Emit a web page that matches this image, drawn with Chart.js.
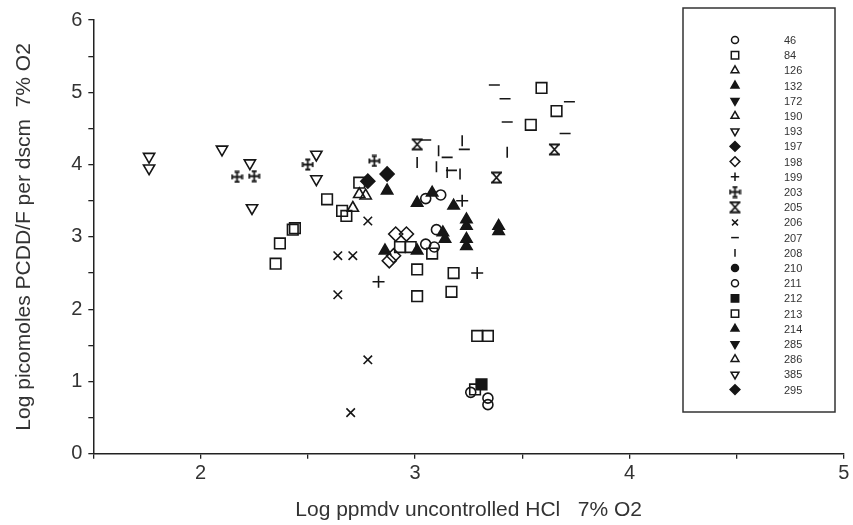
<!DOCTYPE html>
<html>
<head>
<meta charset="utf-8">
<script src="https://cdn.jsdelivr.net/npm/chart.js@4.4.1/dist/chart.umd.min.js"></script>
<style>
  html, body { margin: 0; padding: 0; background: #fff; }
  #wrap { width: 853px; height: 525px; }
</style>
</head>
<body>
<div id="wrap"><canvas id="plot"></canvas></div>
<script>
// series ids in legend order
const seriesLabels = ['46', '84', '126', '132', '172', '190', '193', '197', '198', '199', '203', '205',
  '206', '207', '208', '210', '211', '212', '213', '214', '285', '286', '385', '295'];

// [log HCl, log PCDD/F]
const d46 = [[3.26, 0.85], [3.34, 0.77], [3.34, 0.68]];
const d84 = [[2.35, 2.63], [2.37, 2.91], [2.43, 3.10], [2.44, 3.12], [2.59, 3.52], [2.66, 3.36], [2.68, 3.29], [2.74, 3.75]];
const d126 = [[2.74, 3.59]];
const d132 = [[2.87, 3.64], [2.86, 2.81], [3.01, 3.47], [3.01, 2.81], [3.18, 3.43], [3.08, 3.61]];
const d172 = [];
const d190 = [[2.77, 3.57]];
const d193 = [[1.76, 4.11], [1.76, 3.95], [2.10, 4.21], [2.23, 4.02]];
const d197 = [[2.78, 3.77]];
const d198 = [[2.91, 3.04], [2.96, 3.04], [2.88, 2.67], [2.90, 2.74]];
const d199 = [[2.83, 2.38], [3.29, 2.50], [3.22, 3.50]];
const d203 = [[2.17, 3.83], [2.25, 3.84], [2.50, 4.00], [2.81, 4.05]];
const d205 = [[3.01, 4.28], [3.38, 3.82], [3.65, 4.21]];
const d206 = [[2.64, 2.74], [2.71, 2.74], [2.64, 2.20], [2.78, 3.22], [2.78, 1.30], [2.70, 0.57]];
const d207 = [[3.05, 4.34], [3.15, 4.10], [3.17, 3.92], [3.23, 4.21], [3.37, 5.10], [3.42, 4.91], [3.43, 4.59], [3.72, 4.87], [3.70, 4.43]];
const d208 = [[3.01, 4.03], [3.11, 4.19], [3.10, 3.97], [3.21, 3.87], [3.15, 3.89], [3.22, 4.33], [3.43, 4.17]];
const d210 = [];
const d211 = [[3.05, 2.90], [3.09, 2.86], [3.10, 3.10], [3.05, 3.53], [3.12, 3.58]];
const d212 = [[3.31, 0.96]];
const d213 = [[2.93, 2.86], [2.98, 2.86], [3.08, 2.77], [3.01, 2.55], [3.01, 2.18], [3.18, 2.50], [3.17, 2.24],
  [3.29, 1.63], [3.34, 1.63], [3.28, 0.89], [3.54, 4.55], [3.59, 5.06], [3.66, 4.74]];
const d214 = [[3.13, 3.06], [3.14, 2.97], [3.24, 3.24], [3.24, 3.15], [3.24, 2.97], [3.24, 2.87], [3.39, 3.15], [3.39, 3.08]];
const d285 = [];
const d286 = [[2.71, 3.40]];
const d385 = [[2.24, 3.40], [2.54, 4.14], [2.54, 3.80]];
const d295 = [[2.87, 3.87]];

const seriesData = [d46, d84, d126, d132, d172, d190, d193, d197, d198, d199, d203, d205,
  d206, d207, d208, d210, d211, d212, d213, d214, d285, d286, d385, d295];

const ink = '#161616';
const clear = 'rgba(0,0,0,0)';

function symbolCanvas(kind) {
  const c = document.createElement('canvas');
  c.width = 13; c.height = 13;
  const g = c.getContext('2d');
  g.strokeStyle = ink;
  g.lineWidth = 1.8;
  g.beginPath();
  if (kind === 'plusbar') {
    g.moveTo(1.5, 6.5); g.lineTo(11.5, 6.5);
    g.moveTo(6.5, 1.5); g.lineTo(6.5, 11.5);
    g.moveTo(1.5, 4); g.lineTo(1.5, 9);
    g.moveTo(11.5, 4); g.lineTo(11.5, 9);
    g.moveTo(4, 1.5); g.lineTo(9, 1.5);
    g.moveTo(4, 11.5); g.lineTo(9, 11.5);
  } else {
    g.moveTo(2.5, 2); g.lineTo(10.5, 11);
    g.moveTo(10.5, 2); g.lineTo(2.5, 11);
    g.moveTo(1, 1.5); g.lineTo(12, 1.5);
    g.moveTo(1, 11.5); g.lineTo(12, 11.5);
  }
  g.stroke();
  return c;
}

// marker style per series: [pointStyle, rotation, filled, radius]
const markers = {
  '46': ['circle', 0, false, 5], '84': ['rect', 0, false, 7.5], '126': ['triangle', 0, false, 6.5],
  '132': ['triangle', 0, true, 6.5], '172': ['triangle', 180, true, 6.5], '190': ['triangle', 0, false, 6.5],
  '193': ['triangle', 180, false, 6.5], '197': ['rectRot', 0, true, 7], '198': ['rectRot', 0, false, 7],
  '199': ['cross', 0, false, 6], '203': [symbolCanvas('plusbar'), 0, false, 6], '205': [symbolCanvas('hourglass'), 0, false, 6],
  '206': ['crossRot', 0, false, 6], '207': ['line', 0, false, 5.5], '208': ['line', 90, false, 5.5],
  '210': ['circle', 0, true, 5], '211': ['circle', 0, false, 5], '212': ['rect', 0, true, 7.5],
  '213': ['rect', 0, false, 7.5], '214': ['triangle', 0, true, 6.5], '285': ['triangle', 180, true, 6.5],
  '286': ['triangle', 0, false, 6.5], '385': ['triangle', 180, false, 6.5], '295': ['rectRot', 0, true, 7]
};

const datasets = seriesLabels.map((id, i) => {
  const m = markers[id];
  return {
    label: id,
    data: seriesData[i].map(p => ({ x: p[0], y: p[1] })),
    pointStyle: m[0],
    pointRotation: m[1],
    pointRadius: m[3],
    pointHoverRadius: m[3],
    pointBorderColor: ink,
    pointBackgroundColor: m[2] ? ink : clear,
    pointBorderWidth: 1.6,
    showLine: false
  };
});

const boxLegend = {
  id: 'boxLegend',
  afterDraw(chart) {
    const ctx = chart.ctx;
    ctx.save();
    ctx.fillStyle = '#fff';
    ctx.fillRect(683, 8, 152, 404);
    ctx.strokeStyle = '#333';
    ctx.lineWidth = 1.5;
    ctx.strokeRect(683, 8, 152, 404);
    chart.data.datasets.forEach((ds, i) => {
      const y = 40 + i * 15.2;
      ctx.strokeStyle = ink;
      ctx.fillStyle = ds.pointBackgroundColor;
      ctx.lineWidth = 1.5;
      Chart.helpers.drawPoint(ctx, {
        pointStyle: ds.pointStyle,
        rotation: ds.pointRotation,
        radius: ds.pointRadius * 0.7,
        borderWidth: 1.5
      }, 735, y);
      ctx.fillStyle = '#333';
      ctx.font = '11px "Liberation Sans", Arial, sans-serif';
      ctx.textBaseline = 'middle';
      ctx.textAlign = 'left';
      ctx.fillText(ds.label, 784, y + 1);
    });
    ctx.restore();
  }
};

const tickFont = { family: '"Liberation Sans", Arial, sans-serif', size: 20 };
const titleFont = { family: '"Liberation Sans", Arial, sans-serif', size: 21 };

new Chart(document.getElementById('plot'), {
  type: 'scatter',
  data: { datasets: datasets },
  options: {
    responsive: true,
    maintainAspectRatio: false,
    animation: false,
    layout: { padding: { left: 8, right: -2, top: 20, bottom: 0 } },
    plugins: { legend: { display: false }, tooltip: { enabled: false } },
    scales: {
      x: {
        type: 'linear',
        min: 1.5,
        max: 5,
        afterFit: s => { s.paddingRight = 0; },
        ticks: {
          stepSize: 0.5,
          autoSkip: false,
          maxRotation: 0,
          color: '#333',
          font: tickFont,
          callback: v => Number.isInteger(v) ? String(v) : ''
        },
        grid: { drawOnChartArea: false, tickLength: 5, color: '#222', lineWidth: 1.3 },
        border: { color: '#222', width: 1.5 },
        title: { display: true, text: 'Log ppmdv uncontrolled HCl   7% O2', color: '#333', font: titleFont, padding: { top: 9, bottom: 2 } }
      },
      y: {
        type: 'linear',
        min: 0,
        max: 6,
        ticks: {
          stepSize: 0.5,
          autoSkip: false,
          color: '#333',
          font: tickFont,
          padding: 6,
          callback: v => Number.isInteger(v) ? String(v) : ''
        },
        grid: { drawOnChartArea: false, tickLength: 5, color: '#222', lineWidth: 1.3 },
        border: { color: '#222', width: 1.5 },
        title: { display: true, text: 'Log picomoles PCDD/F per dscm  7% O2', color: '#333', font: titleFont, padding: { bottom: 28 } }
      }
    }
  },
  plugins: [boxLegend]
});
</script>
</body>
</html>
